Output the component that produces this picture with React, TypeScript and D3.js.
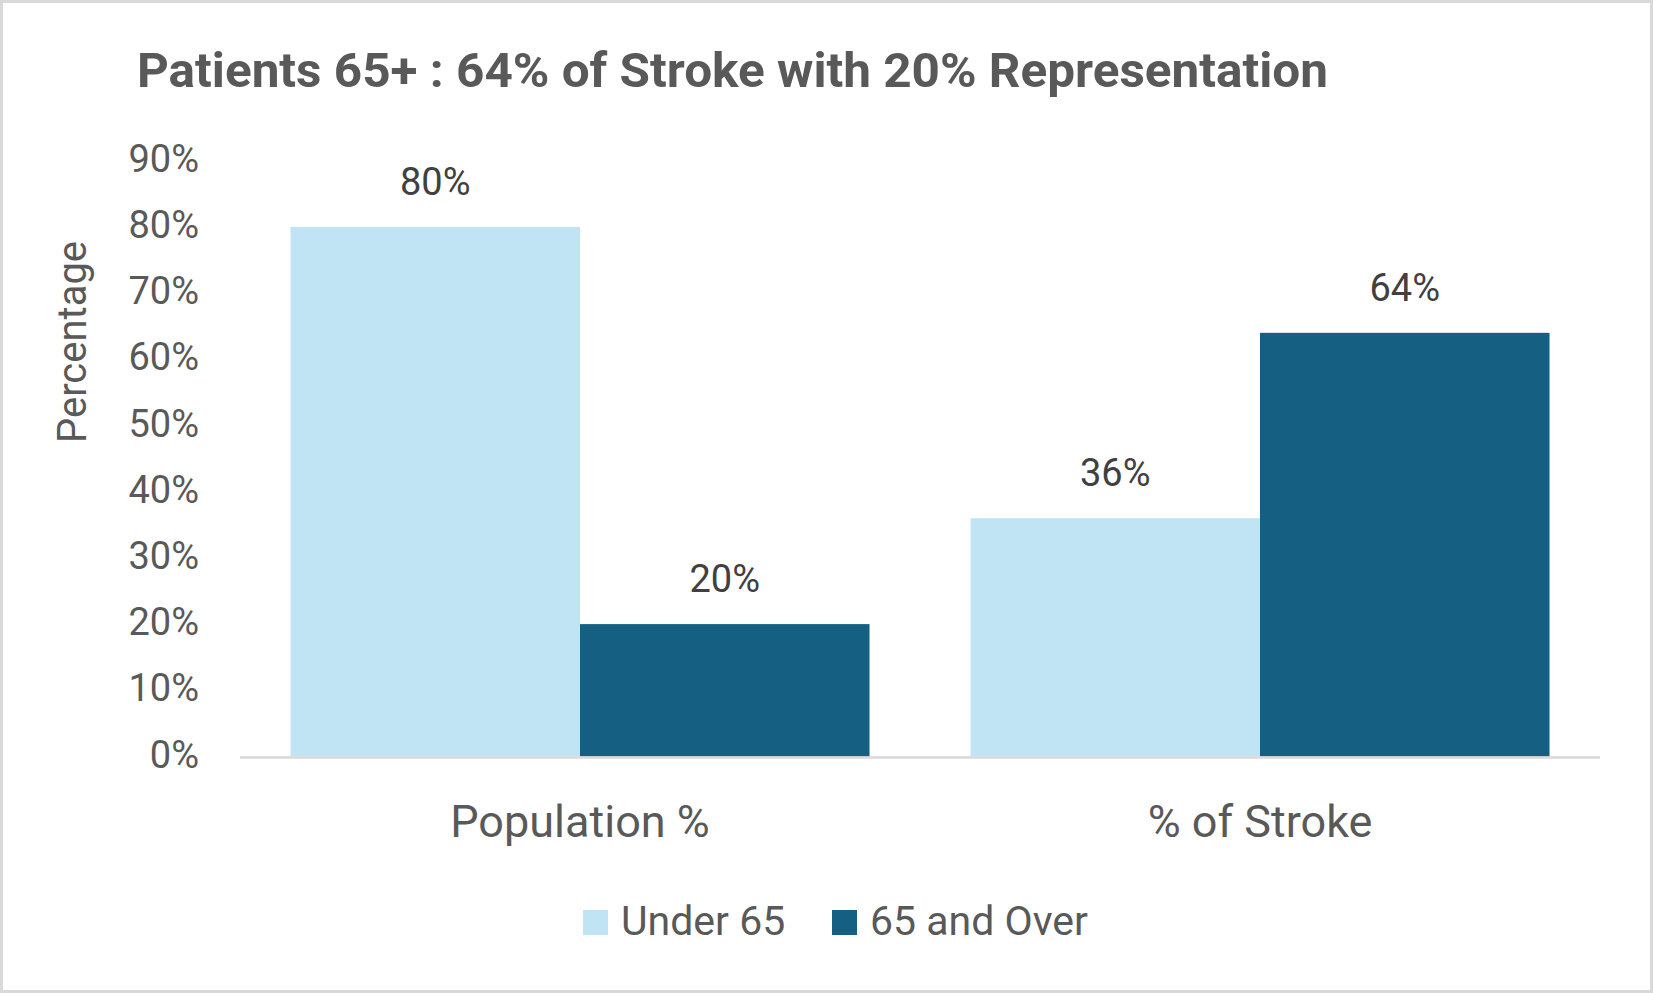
import React from "react";
import * as d3 from "d3";

const categories = ["Population %", "% of Stroke"];
const seriesNames = ["Under 65", "65 and Over"];
const under65 = [80, 36];
const over65 = [20, 64];
const yTicks = [0, 10, 20, 30, 40, 50, 60, 70, 80, 90];
const titleText = "Patients 65+ : 64% of Stroke with 20% Representation";
const yAxisTitle = "Percentage";

const W = 1653;
const H = 993;
const COLORS = ["#C1E4F5", "#156082"];
const TEXT = "#595959";
const FONT = "Roboto, 'Open Sans', sans-serif";

export default function App() {
  const x0 = d3.scaleBand<string>().domain(categories).range([240, 1600]).paddingInner(0.1485).paddingOuter(0.07425);
  const x1 = d3.scaleBand<string>().domain(seriesNames).range([0, x0.bandwidth()]);
  const y = d3.scaleLinear().domain([0, 90]).range([756.5, 160.7]);
  const seriesValues = [under65, over65];
  const legendX = [583, 832];

  return (
    <svg width={W} height={H} style={{ position: "absolute", left: 0, top: 0, background: "#fff" }}>
      <rect x={1.5} y={1.5} width={W - 3} height={H - 3} fill="#fff" stroke="#d9d9d9" strokeWidth={3} />
      <text x={137} y={86.7} fontFamily={FONT} fontWeight={700} fontSize={49} fill={TEXT} textLength={1191} lengthAdjust="spacingAndGlyphs">
        {titleText}
      </text>
      {yTicks.map((t) => (
        <text key={t} x={199} y={y(t) + 11} textAnchor="end" fontFamily={FONT} fontSize={38} fill={TEXT}>
          {t}%
        </text>
      ))}
      <text transform={`translate(86,342) rotate(-90)`} textAnchor="middle" fontFamily={FONT} fontSize={40} fill={TEXT}>
        {yAxisTitle}
      </text>
      {categories.map((c, ci) =>
        seriesNames.map((s, si) => {
          const v = seriesValues[si][ci];
          const bx = (x0(c) ?? 0) + (x1(s) ?? 0);
          return (
            <g key={c + s}>
              <rect x={bx} y={y(v)} width={x1.bandwidth()} height={y(0) - y(v)} fill={COLORS[si]} />
              <text x={bx + x1.bandwidth() / 2} y={y(v) - 32} textAnchor="middle" fontFamily={FONT} fontSize={38} fill="#404040">
                {v}%
              </text>
            </g>
          );
        })
      )}
      <line x1={240} x2={1600} y1={757.5} y2={757.5} stroke="#d9d9d9" strokeWidth={2.5} />
      {categories.map((c) => (
        <text key={c} x={(x0(c) ?? 0) + x0.bandwidth() / 2} y={836.7} textAnchor="middle" fontFamily={FONT} fontSize={45} fill={TEXT}>
          {c}
        </text>
      ))}
      <g>
        {seriesNames.map((s, i) => {
          const lx = legendX[i];
          return (
            <g key={s}>
              <rect x={lx} y={910} width={25} height={25} fill={COLORS[i]} />
              <text x={lx + 38} y={934.5} fontFamily={FONT} fontSize={41} fill={TEXT}>
                {s}
              </text>
            </g>
          );
        })}
      </g>
    </svg>
  );
}
